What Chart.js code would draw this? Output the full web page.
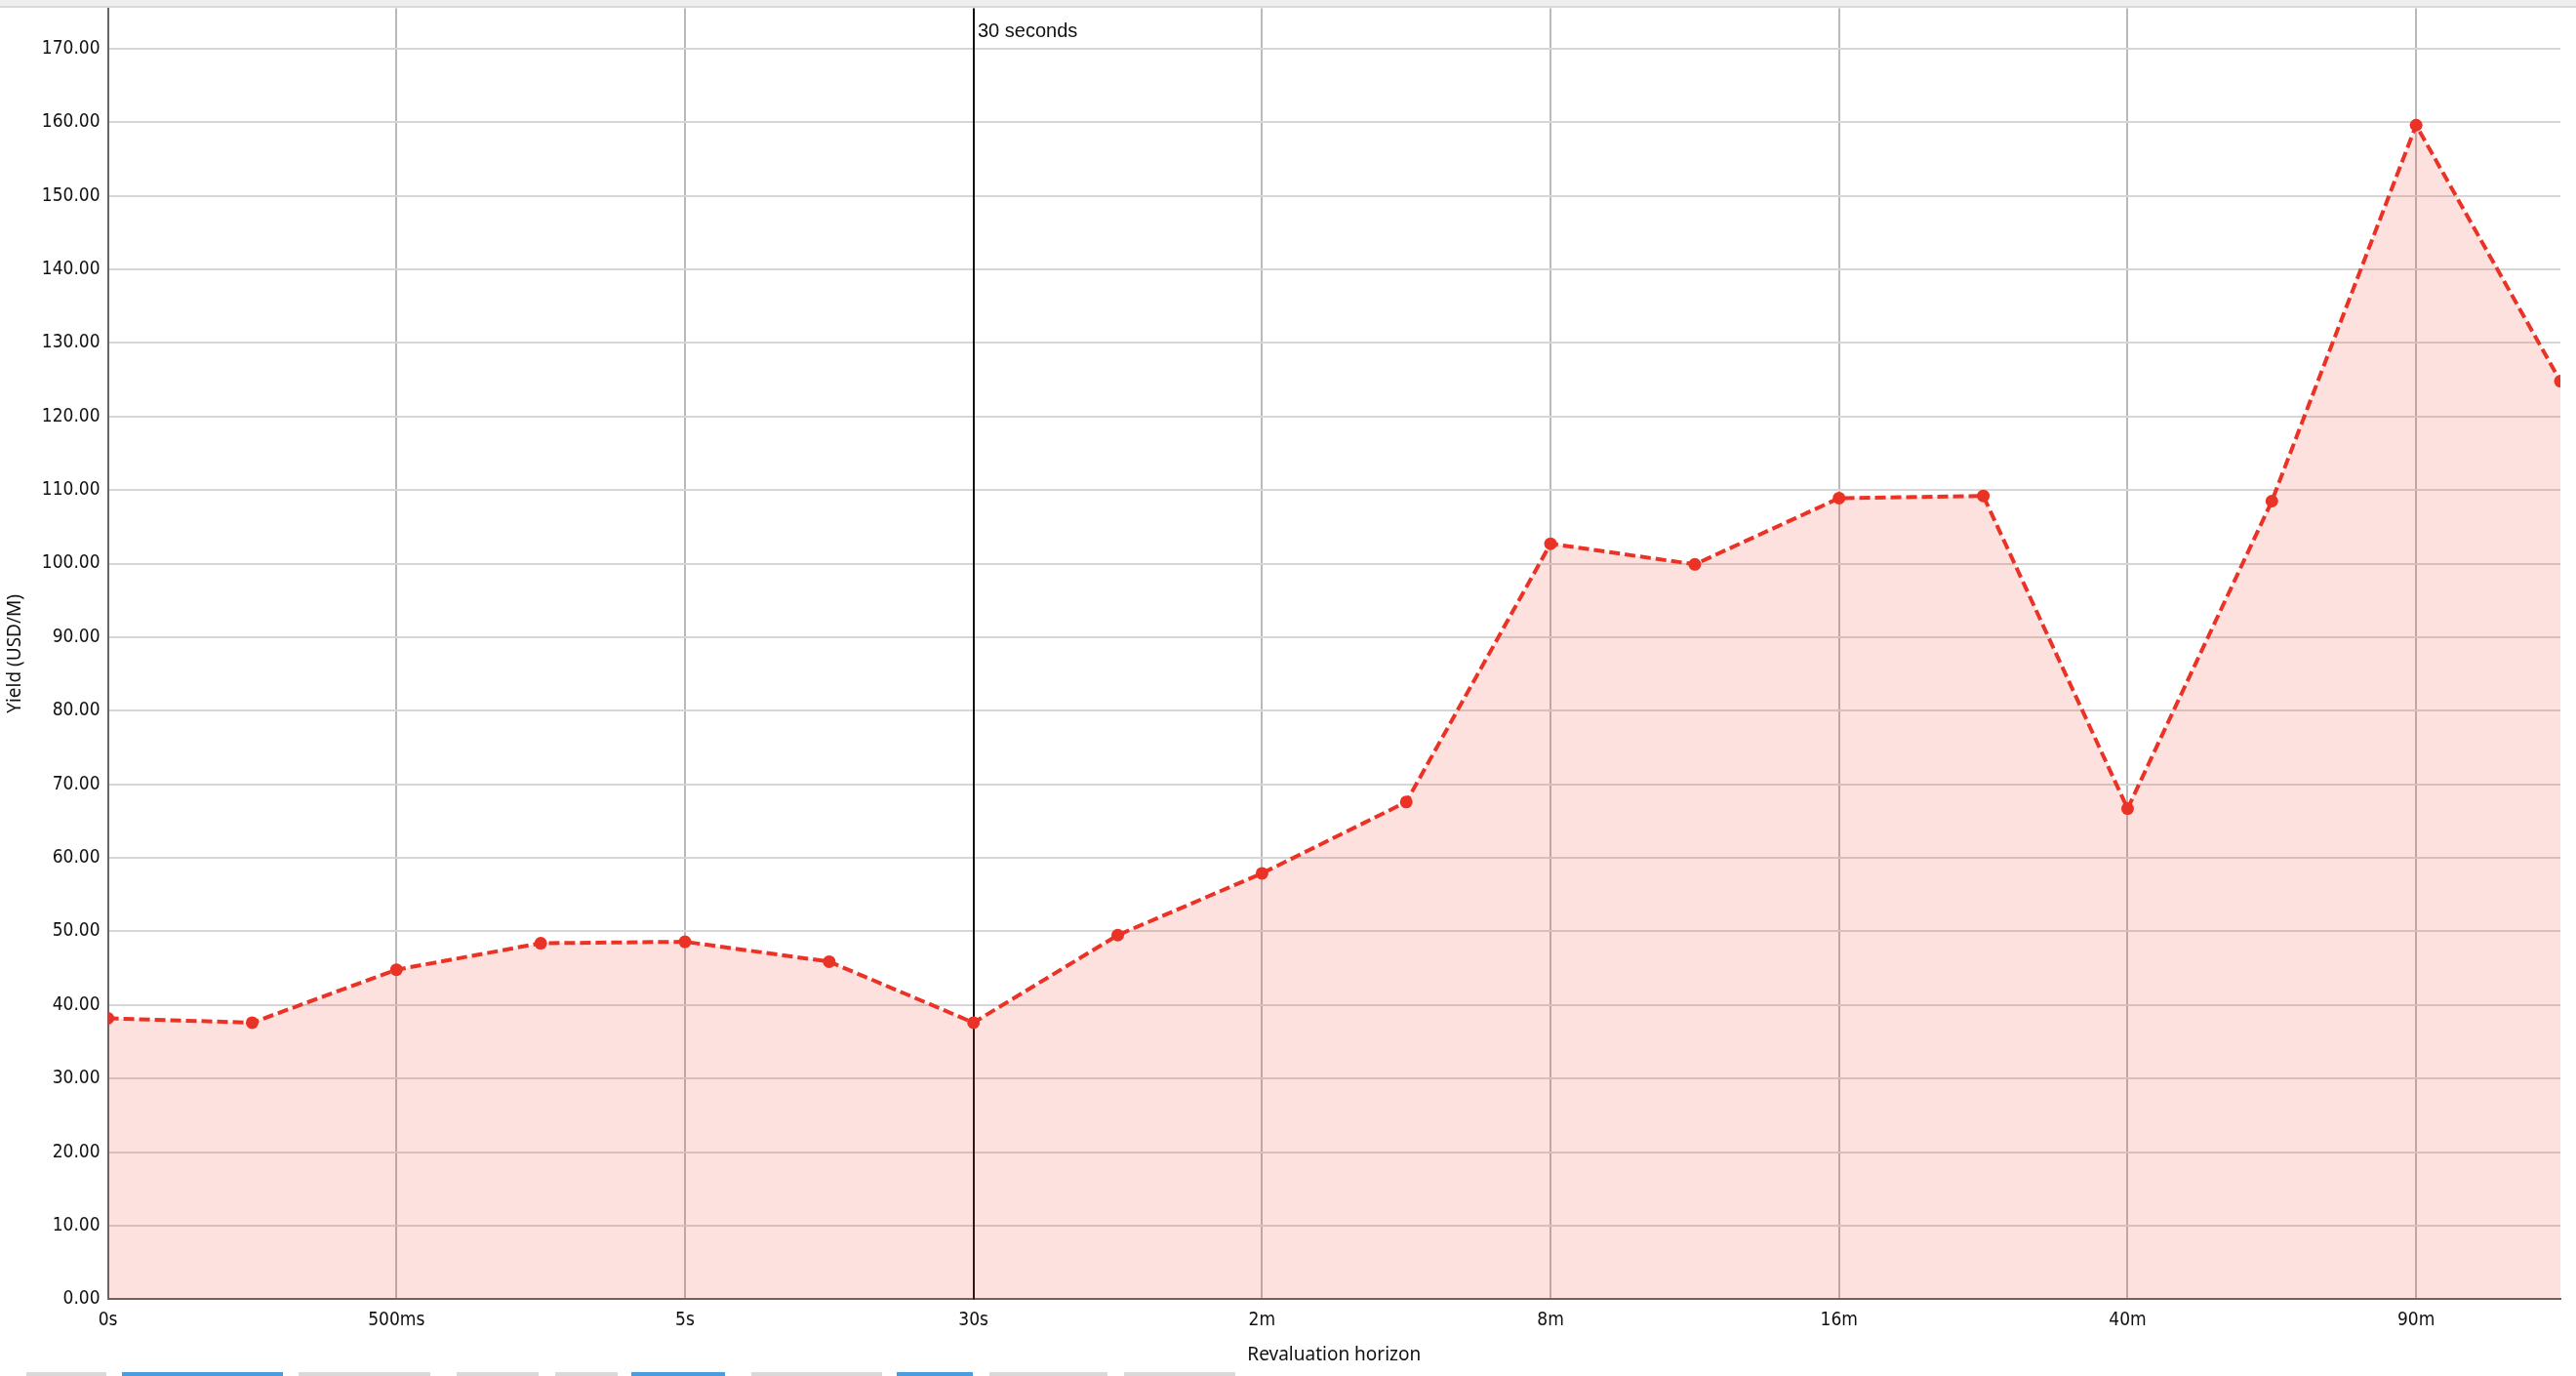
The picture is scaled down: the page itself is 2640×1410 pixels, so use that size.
<!DOCTYPE html>
<html>
<head>
<meta charset="utf-8">
<title>Yield per revaluation horizon</title>
<script src="https://cdn.jsdelivr.net/npm/chart.js@4/dist/chart.umd.min.js"></script>
<style>
  html, body { margin: 0; padding: 0; background: #fff; overflow: hidden; }
  body { position: relative; width: 2640px; height: 1410px; }
  .topbar { position: absolute; left: 0; top: 0; width: 2640px; height: 6px; background: #eeeeee; border-bottom: 2px solid #d9d9d9; z-index: 2; }
  /* canvas starts above the page so the plot area begins right under the bar */
  .wrap { position: absolute; left: 0; top: -11px; width: 2640px; height: 1415px; }
  .tabs { position: absolute; left: 0; top: 1406px; width: 2640px; height: 4px; }
  .tabs span { position: absolute; top: 0; height: 4px; background: #d9d9d9; }
  .tabs span.on { background: #4a9de0; }
</style>
</head>
<body>
<div class="topbar"></div>
<div class="wrap"><canvas id="yieldChart"></canvas></div>
<div class="tabs">
  <span style="left:27px;width:82px"></span>
  <span class="on" style="left:125px;width:165px"></span>
  <span style="left:306px;width:135px"></span>
  <span style="left:468px;width:84px"></span>
  <span style="left:569px;width:64px"></span>
  <span class="on" style="left:647px;width:96px"></span>
  <span style="left:770px;width:134px"></span>
  <span class="on" style="left:919px;width:78px"></span>
  <span style="left:1014px;width:121px"></span>
  <span style="left:1152px;width:114px"></span>
</div>
<script>
// Labelled horizons (every second point carries a label).
var xTickLabels = ["0s", "500ms", "5s", "30s", "2m", "8m", "16m", "40m", "90m"];
// Yield (USD/M) per revaluation horizon, one value per point.
var yieldValues = [38.2, 37.6, 44.8, 48.4, 48.6, 45.9, 37.6, 49.5, 57.9, 67.6,
                   102.7, 99.9, 108.9, 109.2, 66.7, 108.5, 159.6, 124.8];
var yTickStep = 10;
var yMax = 175.5;
var markerIndex = 6;
var markerLabel = "30 seconds";

var RED = "rgb(234, 51, 38)";
var TICK_FONT = { family: "'DejaVu Sans Condensed', 'Liberation Sans', sans-serif", size: 19 };
var TITLE_FONT = { family: "'Noto Sans', 'Open Sans', sans-serif", size: 19 };

// Vertical reference line at the 30s horizon.
var markerPlugin = {
  id: "marker",
  beforeDatasetsDraw: function (chart) {
    var ctx = chart.ctx;
    var area = chart.chartArea;
    var x = Math.round(chart.scales.x.getPixelForValue(markerIndex));
    ctx.save();
    ctx.strokeStyle = "#111";
    ctx.lineWidth = 2;
    ctx.beginPath();
    ctx.moveTo(x, area.top);
    ctx.lineTo(x, area.bottom);
    ctx.stroke();
    ctx.fillStyle = "#111";
    ctx.font = "20px 'Liberation Sans', Arial, sans-serif";
    ctx.textBaseline = "middle";
    ctx.textAlign = "left";
    ctx.fillText(markerLabel, x + 4, area.top + 24);
    ctx.restore();
  }
};

var points = yieldValues.map(function (v, i) { return { x: i, y: v }; });

new Chart(document.getElementById("yieldChart"), {
  type: "line",
  data: {
    datasets: [{
      data: points,
      borderColor: RED,
      backgroundColor: "rgba(234, 51, 38, 0.15)",
      borderWidth: 4,
      borderDash: [11, 5],
      pointRadius: 6.5,
      pointBackgroundColor: RED,
      pointBorderColor: RED,
      pointBorderWidth: 0,
      tension: 0,
      fill: "origin",
    }],
  },
  options: {
    responsive: true, maintainAspectRatio: false,
    animation: false,
    devicePixelRatio: 1,
    layout: { padding: { left: 0, right: 16, top: 0, bottom: 0 } },
    plugins: { legend: { display: false }, tooltip: { enabled: false } },
    scales: {
      x: {
        type: "linear", min: 0, max: yieldValues.length - 1,
        ticks: {
          stepSize: 2, includeBounds: false, autoSkip: false, maxRotation: 0,
          padding: 10, color: "#111", font: TICK_FONT,
          callback: function (v) { return xTickLabels[v / 2]; },
        },
        grid: { color: "#b9b9b9", lineWidth: 2, drawTicks: false },
        border: { color: "#666", width: 2 },
        title: { display: true, text: "Revaluation horizon", color: "#111", font: TITLE_FONT, padding: { top: 3, bottom: 4 } },
      },
      y: {
        min: 0, max: yMax,
        ticks: {
          stepSize: yTickStep, includeBounds: false,
          padding: 8, color: "#111", font: TICK_FONT,
          callback: function (v) { return v.toFixed(2); },
        },
        grid: { color: "#d6d6d6", lineWidth: 2, drawTicks: false },
        border: { color: "#666", width: 2 },
        title: { display: true, text: "Yield (USD/M)", color: "#111", font: TITLE_FONT, padding: { top: 4, bottom: 8 } },
      },
    },
  },
  plugins: [markerPlugin],
});
</script>
</body>
</html>
